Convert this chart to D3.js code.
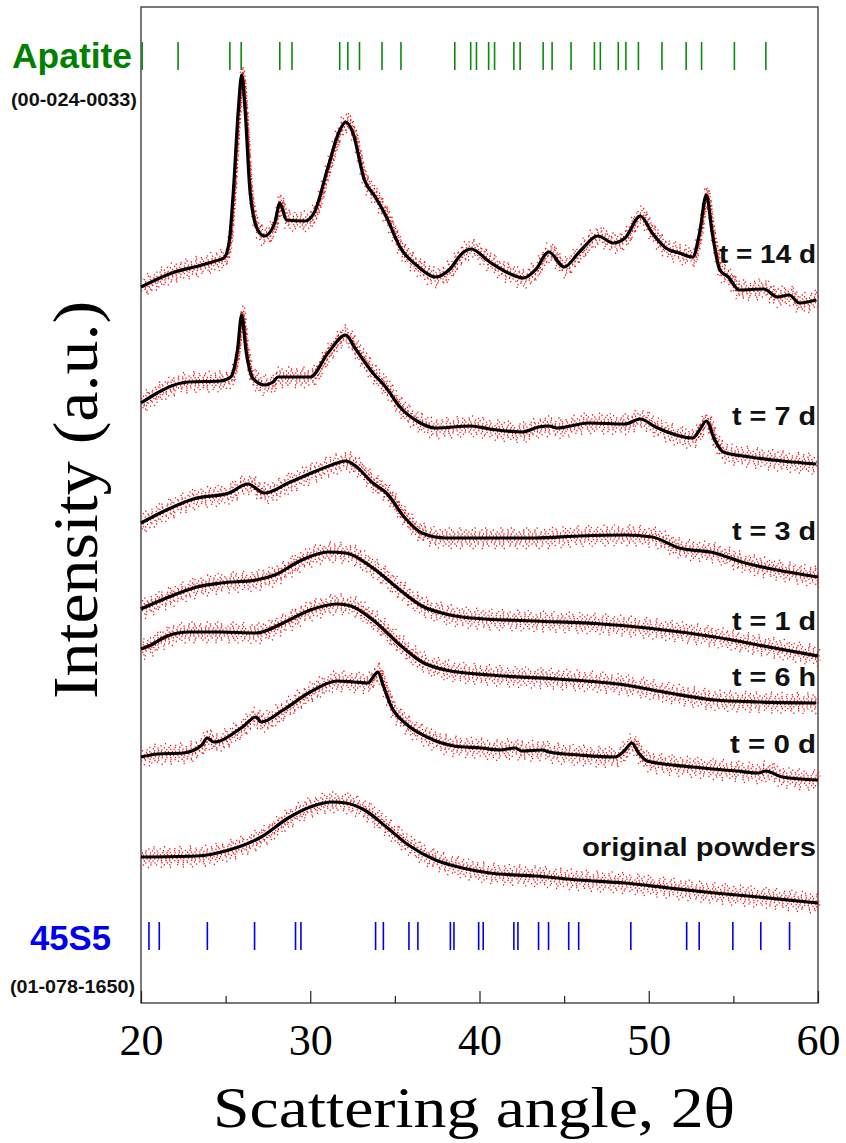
<!DOCTYPE html>
<head>
  <meta charset="utf-8">
  <script src="https://cdn.jsdelivr.net/npm/d3@7"></script>
  <style>
    body { margin: 0; background: #fff; }
    svg { display: block; }
    .serif { font-family: "Times New Roman", "Liberation Serif", serif; }
    .sans { font-family: Arial, "Liberation Sans", sans-serif; font-weight: bold; }
  </style>
</head>
<body>
<div id="chart"></div>
<script>
// scattering angle (2θ, deg) / intensity (a.u., stacked)
const curve14d = [[20,716],[22,731],[23.4,737],[24.4,742],[24.9,745],[25.2,760],[25.45,810],[25.75,893],[25.95,928],[26.15,893],[26.45,810],[26.9,773],[27.3,767],[27.9,780],[28.2,800],[28.6,783],[29.7,782],[30.25,791],[31.05,836],[31.7,871],[32.1,881],[32.5,871],[33.2,823],[33.85,806],[34.5,786],[35.3,756],[36.4,736],[37.4,726],[38.2,733],[39,750],[39.5,754],[40.6,741],[41.7,730],[42.6,725],[43.3,733],[44.1,751],[45,736],[45.9,751],[47,767],[47.9,760],[48.6,765],[49.5,787],[50.2,770],[51,755],[51.8,750],[52.6,746],[53,770],[53.4,808],[53.75,770],[54.2,733],[54.7,726],[55.35,713],[56.8,714],[57.6,706],[58.3,708],[58.9,700],[59.9,703]]
const curve7d = [[20,600],[20.96,610],[21.8,617],[22.8,621],[24.7,622],[25.3,626],[25.7,653],[25.95,688],[26.2,653],[26.6,625],[27.3,618],[27.8,621],[28.1,626],[30,626],[31.05,650],[32.1,668],[32.6,656],[33.7,630],[34.5,615],[35.3,596],[36.4,581],[37.4,575],[39.5,577],[40.6,574],[42.5,571],[43.5,576],[44.1,577],[44.6,575],[46.45,580],[48.6,579],[49.5,584],[50.4,576],[52.6,565],[53,573],[53.4,582],[53.9,563],[54.4,551],[56,546],[57.9,542],[59.9,539]]
const curve3d = [[20,480],[21.5,493],[23.1,504],[25.2,510],[26.3,519],[27.3,510],[28.7,520],[30.5,533],[31.6,540],[32.1,542],[32.6,538],[33.7,520],[34.5,510],[35.6,485],[36.6,470],[38,465],[40.6,465],[43.3,465],[45.9,467],[48.6,468],[50.2,466],[51.8,455],[53.9,450],[55.5,441],[57.6,433],[60,426]]
const curve1d = [[20,394],[21.5,405],[23.3,416],[24.7,420],[26.8,423],[27.9,428],[29.5,443],[31.05,451],[32.1,450],[33.7,435],[35.3,413],[36.6,397],[38,389],[39.5,385],[43.3,382],[47.2,379],[49.9,375],[53.9,366],[57.1,356],[60,347]]
const curve6h = [[20,354],[20.6,358],[21.2,364],[21.9,369],[22.8,371],[24.7,371],[26.8,370],[28.4,380],[30,393],[31.6,399],[32.4,397],[33.7,383],[35.3,358],[36.6,341],[38,333],[40.6,328],[44.6,324],[48.6,318],[51.2,310],[53.9,303],[56.5,301],[59.9,300]]
const curve0d = [[20,246],[21,249],[22.5,250],[23.6,258],[23.9,265],[24.3,261],[26,276],[26.8,286],[27.1,281],[28.4,293],[30,311],[31.6,322],[32.6,321],[33.4,320],[33.8,328],[34,331],[34.3,318],[34.8,296],[35.6,280],[36.9,266],[38.5,257],[40.1,255],[41.2,253],[42.1,255],[42.5,252],[43.7,253],[44.1,251],[45.9,248],[48,246],[48.6,253],[49,260],[49.4,250],[49.9,242],[52.6,236],[55.2,232],[56.5,230],[56.9,232],[57.9,226],[60,223]]
const curveOriginal = [[20,146],[23.3,147],[25.2,153],[27.1,166],[28.7,185],[30,196],[31.3,201],[32.1,200],[33.2,193],[34.5,176],[35.8,158],[37.4,143],[39,135],[40.6,130],[43.3,127],[45.9,123],[48.6,120],[51.2,115],[53.9,110],[56.5,106],[60,100]]

const seriesNames = ['t = 14 d', 't = 7 d', 't = 3 d', 't = 1 d', 't = 6 h', 't = 0 d', 'original powders']
const seriesCurves = [curve14d, curve7d, curve3d, curve1d, curve6h, curve0d, curveOriginal]

// reference pattern line positions (2θ)
const apatitePeaks = [20.07,22.19,25.25,25.92,28.2,28.92,31.74,32.22,32.91,34.24,35.36,38.54,39.48,39.82,40.54,40.89,42.03,42.4,43.76,44.29,45.41,46.79,47.14,48.2,48.65,49.39,50.78,52.21,53.12,55.06,56.92]
const bioglassPeaks = [20.47,21.08,23.92,26.71,29.13,29.45,33.86,34.32,35.83,36.36,38.28,38.49,39.95,40.22,42.03,42.27,43.49,44.08,45.27,45.86,48.94,52.24,52.98,54.97,56.62,58.32]

const xTicks = [20, 30, 40, 50, 60]
const xMinorTicks = [25, 35, 45, 55]

// ---- layout
const W = 846, H = 1143
const plot = { left: 141, right: 818, top: 7, bottom: 1003 }
const labelBaselines = [263, 425, 540, 630, 686, 753, 856]
const labelWidths = [97, 84, 84, 84, 84, 86, 234]

const svg = d3.select('#chart').append('svg')
  .attr('width', W).attr('height', H)
  .attr('viewBox', [0, 0, W, H])

const x = d3.scaleLinear().domain([20, 60]).range([plot.left, plot.right])
const y = d3.scaleLinear().domain([0, 996]).range([plot.bottom, plot.top])

// frame
svg.append('rect')
  .attr('x', plot.left).attr('y', plot.top)
  .attr('width', plot.right - plot.left).attr('height', plot.bottom - plot.top)
  .attr('fill', 'none').attr('stroke', '#222').attr('stroke-width', 1.2)

// x axis, ticks pointing in
const axisG = svg.append('g').attr('transform', `translate(0,${plot.bottom})`)
axisG.call(d3.axisBottom(x).tickValues(xTicks).tickSize(-12).tickPadding(21).tickFormat(d3.format('d')))
axisG.append('g').call(d3.axisBottom(x).tickValues(xMinorTicks).tickSize(-7).tickFormat(''))
axisG.selectAll('.domain').remove()
axisG.selectAll('.tick line').attr('stroke', '#222').attr('stroke-width', 1.2)
axisG.selectAll('.tick text')
  .attr('class', 'serif')
  .attr('font-size', 44)
  .attr('fill', '#000')

// curves
const line = d3.line()
  .x(d => x(d[0]))
  .y(d => y(d[1]))
  .curve(d3.curveMonotoneX)

// red measured points, drawn as uneven rows of dots around each fit
const dotRows = [
  { dy: -10, dash: '1.2 9.3 1.2 14.1', off: 3.7 },
  { dy: -8, dash: '1.2 5.1 1.2 8.3 1.2 3.9', off: 0.7 },
  { dy: -6, dash: '1.2 3.4 1.2 5.2', off: 2.1 },
  { dy: -4, dash: '1.2 2.1 1.2 3.7 1.2 2.9', off: 1.3 },
  { dy: -2, dash: '1.2 1.9 1.2 2.8', off: 4.2 },
  { dy: 0, dash: '1.2 2.3 1.2 1.7', off: 0.2 },
  { dy: 2, dash: '1.2 2.6 1.2 1.9 1.2 3.1', off: 1.6 },
  { dy: 4, dash: '1.2 2.5 1.2 3.6', off: 0.4 },
  { dy: 6, dash: '1.2 4.1 1.2 2.7 1.2 5.8', off: 1.8 },
  { dy: 8, dash: '1.2 6.5 1.2 4.4', off: 3.2 },
  { dy: 10.5, dash: '1.2 11.7 1.2 7.9', off: 5.5 },
]
const dotsG = svg.append('g')
seriesCurves.forEach((c, k) => {
  dotRows.forEach((r, j) => {
    dotsG.append('path')
      .attr('d', line(c))
      .attr('transform', `translate(${((j * 3 + k) % 5) * 0.6},${r.dy})`)
      .attr('fill', 'none')
      .attr('stroke', '#f21414')
      .attr('stroke-width', 1.4)
      .attr('stroke-dasharray', r.dash)
      .attr('stroke-dashoffset', r.off + k * 1.7)
  })
})

svg.append('g').selectAll('path').data(seriesCurves).join('path')
  .attr('d', line)
  .attr('fill', 'none')
  .attr('stroke', '#000')
  .attr('stroke-width', 3.2)
  .attr('stroke-linejoin', 'round')

// series labels
svg.append('g').selectAll('text').data(seriesNames).join('text')
  .attr('class', 'sans')
  .attr('x', 816)
  .attr('y', (d, i) => labelBaselines[i])
  .attr('text-anchor', 'end')
  .attr('font-size', 26)
  .attr('fill', '#111')
  .attr('textLength', (d, i) => labelWidths[i])
  .attr('lengthAdjust', 'spacingAndGlyphs')
  .text(d => d)

// reference patterns
svg.append('g').selectAll('line').data(apatitePeaks).join('line')
  .attr('x1', d => x(d)).attr('x2', d => x(d))
  .attr('y1', 42).attr('y2', 70)
  .attr('stroke', '#0a8a0a').attr('stroke-width', 1.6)
svg.append('g').selectAll('line').data(bioglassPeaks).join('line')
  .attr('x1', d => x(d)).attr('x2', d => x(d))
  .attr('y1', 922).attr('y2', 950)
  .attr('stroke', '#0000ee').attr('stroke-width', 1.6)

svg.append('text').attr('class', 'sans')
  .attr('x', 12).attr('y', 68).attr('font-size', 35).attr('fill', '#008000')
  .attr('textLength', 120).attr('lengthAdjust', 'spacingAndGlyphs')
  .text('Apatite')
svg.append('text').attr('class', 'sans')
  .attr('x', 11).attr('y', 106).attr('font-size', 18).attr('fill', '#111')
  .attr('textLength', 126).attr('lengthAdjust', 'spacingAndGlyphs')
  .text('(00-024-0033)')
svg.append('text').attr('class', 'sans')
  .attr('x', 30).attr('y', 950).attr('font-size', 35).attr('fill', '#0000ee')
  .attr('textLength', 81).attr('lengthAdjust', 'spacingAndGlyphs')
  .text('45S5')
svg.append('text').attr('class', 'sans')
  .attr('x', 10).attr('y', 993).attr('font-size', 18).attr('fill', '#111')
  .attr('textLength', 125).attr('lengthAdjust', 'spacingAndGlyphs')
  .text('(01-078-1650)')

// axis titles
svg.append('text').attr('class', 'serif')
  .attr('transform', 'translate(97,500) rotate(-90)')
  .attr('text-anchor', 'middle')
  .attr('font-size', 64)
  .attr('textLength', 398).attr('lengthAdjust', 'spacingAndGlyphs')
  .text('Intensity (a.u.)')
svg.append('text').attr('class', 'serif')
  .attr('x', 474).attr('y', 1127)
  .attr('text-anchor', 'middle')
  .attr('font-size', 56)
  .attr('textLength', 522).attr('lengthAdjust', 'spacingAndGlyphs')
  .text('Scattering angle, 2θ')
</script>
</body>
